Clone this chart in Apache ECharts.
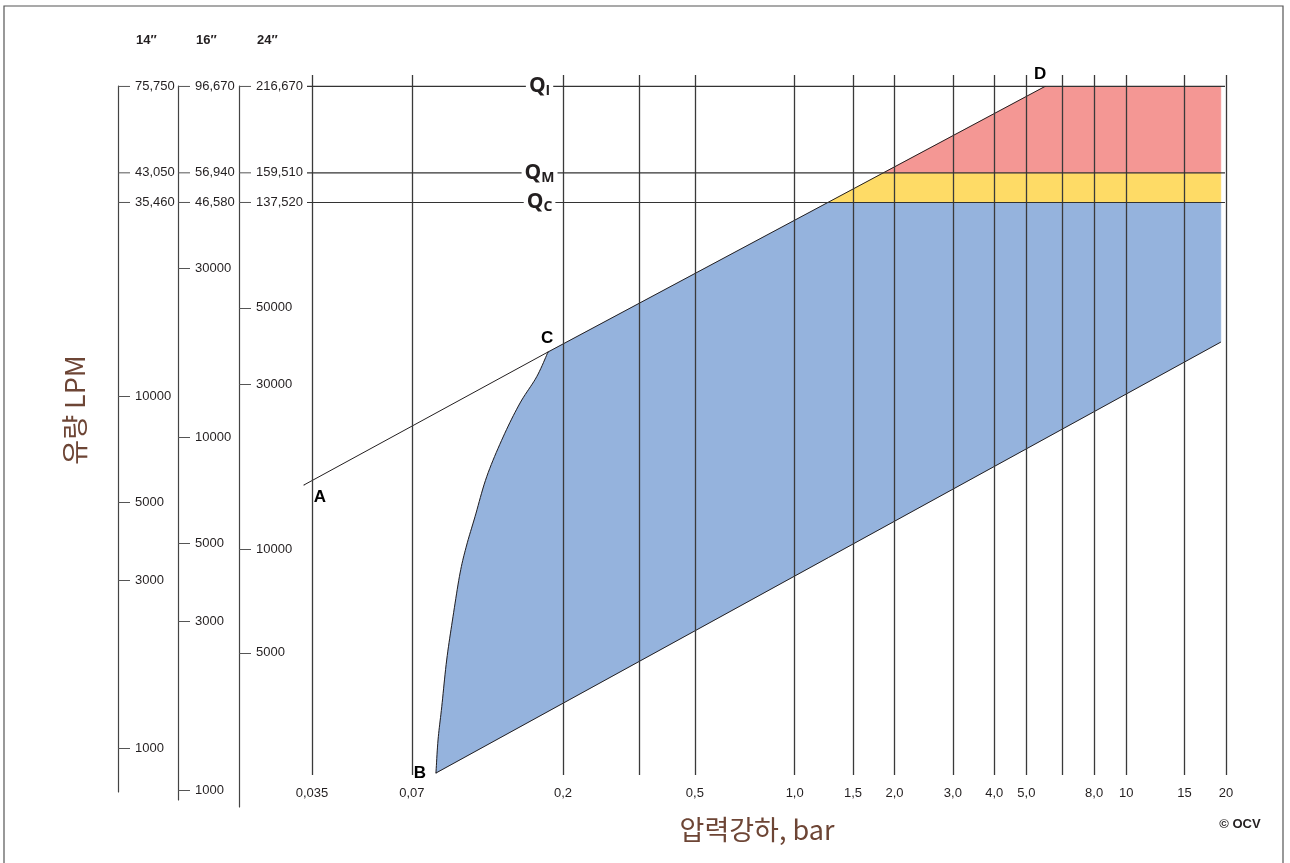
<!DOCTYPE html>
<html>
<head>
<meta charset="utf-8">
<script src="https://cdn.jsdelivr.net/npm/echarts@6/dist/echarts.min.js"></script>
<style>
html, body { margin: 0; padding: 0; background: #fff; }
#chart { width: 1290px; height: 863px; }
</style>
</head>
<body>
<div id="chart"></div>
<script>
// 압력강하 (bar) 눈금
const pressureTicks = [0.035, 0.07, 0.2, 0.34, 0.5, 1.0, 1.5, 2.0, 3.0, 4.0, 5.0, 6.4, 8.0, 10, 15, 20];
const pressureLabels = ['0,035', '0,07', '0,2', '', '0,5', '1,0', '1,5', '2,0', '3,0', '4,0', '5,0', '', '8,0', '10', '15', '20'];

// 유량 축 (14", 16", 24")
const pipeSizes = ['14″', '16″', '24″'];
const flowTicks14 = [1000, 3000, 5000, 10000];
const flowTicks16 = [1000, 3000, 5000, 10000, 30000];
const flowTicks24 = [5000, 10000, 30000, 50000];

// Q 기준선 (값은 14" 기준 유량)
const qNames = ['I', 'M', 'C'];
const q14 = [75750, 43050, 35460];
const q14Labels = ['75,750', '43,050', '35,460'];
const q16Labels = ['96,670', '56,940', '46,580'];
const q24Labels = ['216,670', '159,510', '137,520'];

// 선 (압력강하 bar, 유량 LPM)
const lineACD = [[0.0331, 5587], [0.1803, 13335], [5.69, 75750]];
const lineBE = [[0.0828, 849], [19.3, 14230]];
const curveBC = [
  [0.0828, 849], [0.084, 1054], [0.0862, 1310], [0.0892, 1778], [0.0932, 2360],
  [0.0979, 3142], [0.1025, 3773], [0.1086, 4540], [0.1178, 5899], [0.132, 7648],
  [0.1485, 9553], [0.1667, 11345], [0.1803, 13335]
];
const pointNames = ['A', 'B', 'C', 'D'];
const pointValues = [[0.0331, 5587], [0.0828, 849], [0.1803, 13335], [5.69, 75750]];

// 영역
const blueCorners = [[1.26, 35460], [19.3, 35460], [19.3, 14230]];
const yellowArea = [[1.26, 35460], [1.85, 43050], [19.3, 43050], [19.3, 35460]];
const redArea = [[1.85, 43050], [5.69, 75750], [19.3, 75750], [19.3, 43050]];

const ink = '#231f20';
const brown = '#6d4535';
const colX = [130, 190, 251];
const qLabelP = 0.17;
const sideAxes = [
  { height: 706, min: 750, max: 75980, ticks: flowTicks14 },
  { height: 714, min: 937, max: 98700, ticks: flowTicks16 },
  { height: 721, min: 1788, max: 219800, ticks: flowTicks24 }
];

// 화면 좌표에서 곡선을 부드럽게 (Catmull-Rom)
function smoothPx(pts, steps) {
  const out = [];
  const n = pts.length;
  for (let i = 0; i < n - 1; i++) {
    const p0 = pts[Math.max(i - 1, 0)], p1 = pts[i], p2 = pts[i + 1], p3 = pts[Math.min(i + 2, n - 1)];
    for (let s = 0; s < steps; s++) {
      const t = s / steps, t2 = t * t, t3 = t2 * t;
      out.push([0, 1].map(k => 0.5 * (2 * p1[k] + (-p0[k] + p2[k]) * t +
        (2 * p0[k] - 5 * p1[k] + 4 * p2[k] - p3[k]) * t2 +
        (-p0[k] + 3 * p1[k] - 3 * p2[k] + p3[k]) * t3)));
    }
  }
  out.push(pts[n - 1]);
  return out;
}

function areaSeries(pts, color) {
  return {
    type: 'custom',
    xAxisIndex: 0,
    yAxisIndex: 0,
    silent: true,
    z: 1,
    data: pts,
    renderItem: function (params, api) {
      if (params.dataIndex !== 0) return;
      return {
        type: 'polygon',
        shape: { points: pts.map(p => api.coord(p)) },
        style: { fill: color, stroke: color, lineWidth: 0.5 }
      };
    }
  };
}

function blueSeries(color) {
  return {
    type: 'custom',
    xAxisIndex: 0,
    yAxisIndex: 0,
    silent: true,
    z: 1,
    data: curveBC,
    renderItem: function (params, api) {
      if (params.dataIndex !== 0) return;
      const curve = smoothPx(curveBC.map(p => api.coord(p)), 10);
      return {
        type: 'group',
        children: [
          { type: 'polygon', shape: { points: curve.concat(blueCorners.map(p => api.coord(p))) },
            style: { fill: color, stroke: color, lineWidth: 0.5 } },
          { type: 'polyline', shape: { points: curve }, style: { stroke: ink, lineWidth: 1, fill: null } }
        ]
      };
    }
  };
}

function lineSeries(pts) {
  return {
    type: 'custom',
    xAxisIndex: 0,
    yAxisIndex: 0,
    silent: true,
    clip: false,
    z: 3,
    data: pts,
    renderItem: function (params, api) {
      if (params.dataIndex !== 0) return;
      return {
        type: 'polyline',
        shape: { points: pts.map(p => api.coord(p)) },
        style: { stroke: ink, lineWidth: 1, fill: null }
      };
    }
  };
}

function renderQRow(params, api) {
  const i = params.dataIndex;
  const pt = api.coord([api.value(0), api.value(1)]);
  const cs = params.coordSys;
  const y = pt[1];
  const children = [
    { type: 'line', shape: { x1: cs.x - 5, y1: y, x2: cs.x + cs.width - 1, y2: y }, style: { stroke: '#333', lineWidth: 1.2 } },
    {
      type: 'text', x: pt[0], y: y,
      style: {
        text: '{q|Q}{s|' + qNames[i] + '}',
        rich: {
          q: { fontSize: 21, fontWeight: 'bold', fontFamily: 'Open Sans', fill: ink, lineHeight: 24 },
          s: { fontSize: 14, fontWeight: 'bold', fontFamily: 'Open Sans', fill: ink, lineHeight: 14, verticalAlign: 'bottom' }
        },
        align: 'center', verticalAlign: 'middle',
        backgroundColor: '#fff', padding: [0, 3]
      }
    }
  ];
  const colLabels = [q14Labels[i], q16Labels[i], q24Labels[i]];
  colX.forEach((x, k) => {
    children.push({ type: 'line', shape: { x1: x - 12, y1: y, x2: x, y2: y }, style: { stroke: '#555', lineWidth: 1 } });
    children.push({
      type: 'text', x: x + 5, y: y,
      style: { text: colLabels[k], fill: ink, fontSize: 13, fontFamily: 'Liberation Sans', align: 'left', verticalAlign: 'middle' }
    });
  });
  return { type: 'group', children: children };
}

const grids = [{ left: 312, right: 64, top: 75, height: 700 }];
const xAxes = [{ gridIndex: 0, type: 'log', min: 0.035, max: 20, show: false }];
const yAxes = [{ gridIndex: 0, type: 'log', min: 838, max: 81640, show: false }];
const series = [
  blueSeries('#95b3dd'),
  areaSeries(yellowArea, '#fedb66'),
  areaSeries(redArea, '#f49794'),
  lineSeries(lineACD),
  lineSeries(lineBE),
  {
    type: 'line',
    xAxisIndex: 0,
    yAxisIndex: 0,
    data: [],
    silent: true,
    markLine: {
      silent: true,
      precision: 4,
      symbol: ['none', 'none'],
      animation: false,
      z: 5,
      lineStyle: { color: '#3a3a3a', width: 1.3, type: 'solid' },
      label: { position: 'start', distance: 12, color: ink, fontSize: 13, fontFamily: 'Liberation Sans' },
      emphasis: { disabled: true },
      data: pressureTicks.map((v, i) => ({
        xAxis: v,
        label: { show: pressureLabels[i] !== '', formatter: pressureLabels[i] }
      }))
    }
  },
  {
    type: 'custom',
    xAxisIndex: 0,
    yAxisIndex: 0,
    silent: true,
    z: 6,
    data: q14.map(q => [qLabelP, q]),
    renderItem: renderQRow
  },
  {
    type: 'scatter',
    xAxisIndex: 0,
    yAxisIndex: 0,
    silent: true,
    clip: false,
    z: 7,
    symbolSize: 1,
    itemStyle: { color: ink, opacity: 1 },
    label: { show: true, formatter: '{b}', color: '#000', fontSize: 17, fontWeight: 'bold', fontFamily: 'Liberation Sans', position: 'inside' },
    data: pointNames.map((n, i) => ({
      name: n,
      value: pointValues[i],
      label: { offset: [[16, 12], [-16, 0], [-1, -14], [-5, -12]][i] }
    }))
  }
];

sideAxes.forEach((ax, i) => {
  const g = i + 1;
  grids.push({ left: colX[i] - 12, width: 12, top: 86, height: ax.height });
  xAxes.push({ gridIndex: g, type: 'value', min: 0, max: 1, show: false });
  yAxes.push({
    gridIndex: g,
    type: 'log',
    min: ax.min,
    max: ax.max,
    position: 'right',
    axisLine: { show: true, lineStyle: { color: '#444', width: 1.2 } },
    axisTick: { show: false },
    axisLabel: { show: false },
    splitLine: { show: false }
  });
  series.push({
    type: 'line',
    xAxisIndex: g,
    yAxisIndex: g,
    data: [],
    silent: true,
    markLine: {
      silent: true,
      symbol: ['none', 'none'],
      animation: false,
      lineStyle: { color: '#555', width: 1, type: 'solid' },
      label: { position: 'end', distance: 5, color: ink, fontSize: 13, fontFamily: 'Liberation Sans', formatter: p => String(p.value) },
      emphasis: { disabled: true },
      data: ax.ticks.map(v => ({ yAxis: v }))
    }
  });
});

const option = {
  animation: false,
  backgroundColor: '#fff',
  textStyle: { fontFamily: 'Liberation Sans' },
  grid: grids,
  xAxis: xAxes,
  yAxis: yAxes,
  series: series,
  graphic: [
    { type: 'rect', silent: true, shape: { x: 4, y: 6, width: 1279, height: 900 }, style: { fill: 'none', stroke: '#555', lineWidth: 1.2 } },
    { type: 'text', silent: true, x: 75, y: 410, rotation: Math.PI / 2,
      style: { text: '유량 LPM', fill: brown, fontSize: 27, fontFamily: 'Noto Sans CJK KR', align: 'center', verticalAlign: 'middle' } },
    { type: 'text', silent: true, x: 757, y: 830,
      style: { text: '압력강하, bar', fill: brown, fontSize: 27, fontFamily: 'Noto Sans CJK KR', align: 'center', verticalAlign: 'middle' } },
    { type: 'text', silent: true, x: 1240, y: 824,
      style: { text: '© OCV', fill: ink, fontSize: 13, fontWeight: 'bold', fontFamily: 'Liberation Sans', align: 'center', verticalAlign: 'middle' } }
  ].concat(pipeSizes.map((s, i) => ({
    type: 'text', silent: true, x: colX[i] + 6, y: 40,
    style: { text: s, fill: ink, fontSize: 13, fontWeight: 'bold', fontFamily: 'Liberation Sans', align: 'left', verticalAlign: 'middle' }
  })))
};

const myChart = echarts.init(document.getElementById('chart'));
myChart.setOption(option);
</script>
</body>
</html>
